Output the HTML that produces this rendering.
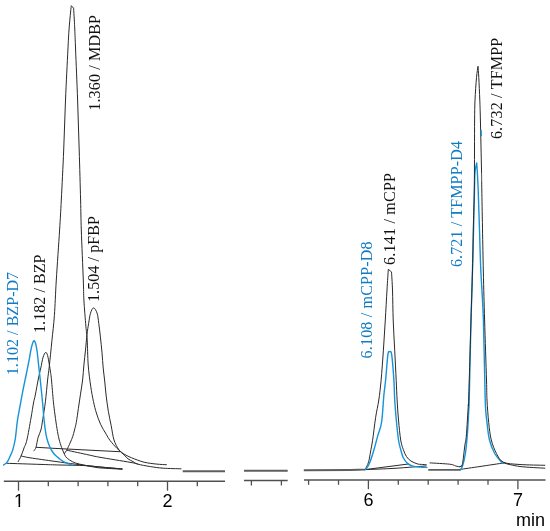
<!DOCTYPE html>
<html><head><meta charset="utf-8"><title>Chromatogram</title>
<style>html,body{margin:0;padding:0;background:#fff;}svg{display:block;}</style></head>
<body>
<svg width="550" height="531" viewBox="0 0 550 531">
<rect width="550" height="531" fill="#fff"/>
<line x1="3.8" y1="481.3" x2="225" y2="481.3" stroke="#505050" stroke-width="1.5"/>
<line x1="18.5" y1="481.3" x2="18.5" y2="490.7" stroke="#505050" stroke-width="1.3"/>
<line x1="48.3" y1="481.3" x2="48.3" y2="486.2" stroke="#505050" stroke-width="1.3"/>
<line x1="78.1" y1="481.3" x2="78.1" y2="486.2" stroke="#505050" stroke-width="1.3"/>
<line x1="107.9" y1="481.3" x2="107.9" y2="486.2" stroke="#505050" stroke-width="1.3"/>
<line x1="137.7" y1="481.3" x2="137.7" y2="486.2" stroke="#505050" stroke-width="1.3"/>
<line x1="167.5" y1="481.3" x2="167.5" y2="490.7" stroke="#505050" stroke-width="1.3"/>
<line x1="197.3" y1="481.3" x2="197.3" y2="486.2" stroke="#505050" stroke-width="1.3"/>
<line x1="244" y1="480.6" x2="287.7" y2="480.6" stroke="#505050" stroke-width="1.5"/>
<line x1="251.4" y1="480.6" x2="251.4" y2="485.5" stroke="#505050" stroke-width="1.3"/>
<line x1="281.4" y1="480.6" x2="281.4" y2="485.5" stroke="#505050" stroke-width="1.3"/>
<line x1="304" y1="480.0" x2="545.5" y2="480.0" stroke="#505050" stroke-width="1.5"/>
<line x1="308.6" y1="480.0" x2="308.6" y2="484.8" stroke="#505050" stroke-width="1.3"/>
<line x1="338.5" y1="480.0" x2="338.5" y2="484.8" stroke="#505050" stroke-width="1.3"/>
<line x1="368.4" y1="480.0" x2="368.4" y2="489.2" stroke="#505050" stroke-width="1.3"/>
<line x1="398.3" y1="480.0" x2="398.3" y2="484.8" stroke="#505050" stroke-width="1.3"/>
<line x1="428.2" y1="480.0" x2="428.2" y2="484.8" stroke="#505050" stroke-width="1.3"/>
<line x1="458.1" y1="480.0" x2="458.1" y2="484.8" stroke="#505050" stroke-width="1.3"/>
<line x1="488.0" y1="480.0" x2="488.0" y2="484.8" stroke="#505050" stroke-width="1.3"/>
<line x1="517.9" y1="480.0" x2="517.9" y2="489.2" stroke="#505050" stroke-width="1.3"/>
<path d="M6.90,463.30 C12.42,463.48 31.15,464.12 40.00,464.40 C48.85,464.68 52.50,464.80 60.00,465.00 C67.50,465.20 78.33,465.27 85.00,465.60 C91.67,465.93 93.83,466.45 100.00,467.00 C106.17,467.55 118.33,468.58 122.00,468.90" fill="none" stroke="#2a2a2a" stroke-width="1.0" stroke-linejoin="round" stroke-linecap="round"/>
<path d="M21.10,456.00 C22.58,456.30 24.35,456.90 30.00,457.80 C35.65,458.70 47.42,460.33 55.00,461.40 C62.58,462.47 68.83,463.35 75.50,464.20 C82.17,465.05 87.25,465.70 95.00,466.50 C102.75,467.30 117.50,468.58 122.00,469.00" fill="none" stroke="#2a2a2a" stroke-width="1.0" stroke-linejoin="round" stroke-linecap="round"/>
<path d="M36.40,447.30 L55.00,448.40 L90.00,450.20 L120.00,451.70" fill="none" stroke="#2a2a2a" stroke-width="1.0" stroke-linejoin="round" stroke-linecap="round"/>
<path d="M67.30,450.30 C70.92,451.08 83.55,453.83 89.00,455.00 C94.45,456.17 93.17,456.08 100.00,457.30 C106.83,458.52 123.72,461.18 130.00,462.30 C136.28,463.42 136.42,463.72 137.70,464.00" fill="none" stroke="#2a2a2a" stroke-width="1.0" stroke-linejoin="round" stroke-linecap="round"/>
<path d="M18.20,461.50 C18.68,460.58 20.13,458.25 21.10,456.00 C22.07,453.75 23.03,450.67 24.00,448.00 C24.97,445.33 25.73,445.00 26.90,440.00 C28.07,435.00 29.90,424.17 31.00,418.00 C32.10,411.83 32.78,406.83 33.50,403.00 C34.22,399.17 34.47,399.17 35.30,395.00 C36.13,390.83 37.58,382.50 38.50,378.00 C39.42,373.50 40.05,371.42 40.80,368.00 C41.55,364.58 42.20,360.10 43.00,357.50 C43.80,354.90 44.83,352.73 45.60,352.40 C46.37,352.07 46.98,353.47 47.60,355.50 C48.22,357.53 48.82,361.85 49.30,364.60 C49.78,367.35 50.13,369.43 50.50,372.00 C50.87,374.57 51.02,375.03 51.50,380.00 C51.98,384.97 52.82,395.97 53.40,401.80 C53.98,407.63 54.40,410.52 55.00,415.00 C55.60,419.48 56.33,424.70 57.00,428.70 C57.67,432.70 58.23,435.87 59.00,439.00 C59.77,442.13 60.85,445.33 61.60,447.50 C62.35,449.67 62.83,450.50 63.50,452.00 C64.17,453.50 64.57,455.15 65.60,456.50 C66.63,457.85 68.05,459.02 69.70,460.10 C71.35,461.18 73.18,462.18 75.50,463.00 C77.82,463.82 80.88,464.38 83.60,465.00 C86.32,465.62 89.07,466.22 91.80,466.70 C94.53,467.18 94.97,467.48 100.00,467.90 C105.03,468.32 118.33,468.98 122.00,469.20" fill="none" stroke="#2a2a2a" stroke-width="1.0" stroke-linejoin="round" stroke-linecap="round"/>
<path d="M33.90,450.80 C34.25,450.20 35.30,449.43 36.00,447.20 C36.70,444.97 37.28,440.27 38.10,437.40 C38.92,434.53 40.13,432.95 40.90,430.00 C41.67,427.05 41.95,424.40 42.70,419.70 C43.45,415.00 44.58,408.42 45.40,401.80 C46.22,395.18 46.95,385.92 47.60,380.00 C48.25,374.08 48.58,372.83 49.30,366.30 C50.02,359.77 51.05,349.28 51.90,340.80 C52.75,332.32 53.67,325.53 54.40,315.40 C55.13,305.27 55.43,294.23 56.30,280.00 C57.17,265.77 58.77,243.33 59.60,230.00 C60.43,216.67 60.62,213.33 61.30,200.00 C61.98,186.67 63.00,166.67 63.70,150.00 C64.40,133.33 64.80,116.67 65.50,100.00 C66.20,83.33 67.32,61.67 67.90,50.00 C68.48,38.33 68.55,36.33 69.00,30.00 C69.45,23.67 70.22,16.05 70.60,12.00 C70.98,7.95 71.18,6.75 71.30,5.70 C71.68,6.12 73.22,7.78 73.60,8.20 C73.72,10.17 74.10,16.37 74.30,20.00 C74.50,23.63 74.58,25.00 74.80,30.00 C75.02,35.00 75.13,38.33 75.60,50.00 C76.07,61.67 77.00,83.33 77.60,100.00 C78.20,116.67 78.70,133.33 79.20,150.00 C79.70,166.67 80.25,186.67 80.60,200.00 C80.95,213.33 80.85,216.67 81.30,230.00 C81.75,243.33 82.87,268.33 83.30,280.00 C83.73,291.67 83.47,292.27 83.90,300.00 C84.33,307.73 85.35,319.80 85.90,326.40 C86.45,333.00 86.82,333.17 87.20,339.60 C87.58,346.03 87.62,357.23 88.20,365.00 C88.78,372.77 89.82,380.08 90.70,386.20 C91.58,392.32 92.55,397.23 93.50,401.70 C94.45,406.17 95.22,409.23 96.40,413.00 C97.58,416.77 98.97,420.77 100.60,424.30 C102.23,427.83 104.62,431.50 106.20,434.20 C107.78,436.90 108.30,438.13 110.10,440.50 C111.90,442.87 114.82,446.23 117.00,448.40 C119.18,450.57 120.80,451.95 123.20,453.50 C125.60,455.05 127.92,456.25 131.40,457.70 C134.88,459.15 139.87,461.13 144.10,462.20 C148.33,463.27 153.08,463.68 156.80,464.10 C160.52,464.52 164.80,464.60 166.40,464.70" fill="none" stroke="#2a2a2a" stroke-width="1.0" stroke-linejoin="round" stroke-linecap="round"/>
<path d="M64.40,453.60 C64.75,453.08 65.82,451.68 66.50,450.50 C67.18,449.32 67.83,447.92 68.50,446.50 C69.17,445.08 69.80,443.65 70.50,442.00 C71.20,440.35 72.03,438.60 72.70,436.60 C73.37,434.60 73.90,432.37 74.50,430.00 C75.10,427.63 75.65,426.02 76.30,422.40 C76.95,418.78 77.70,413.02 78.40,408.30 C79.10,403.58 79.80,398.82 80.50,394.10 C81.20,389.38 82.03,384.85 82.60,380.00 C83.17,375.15 83.42,369.98 83.90,365.00 C84.38,360.02 84.98,355.22 85.50,350.10 C86.02,344.98 86.48,338.70 87.00,334.30 C87.52,329.90 88.02,327.22 88.60,323.70 C89.18,320.18 89.67,315.83 90.50,313.20 C91.33,310.57 92.50,307.90 93.60,307.90 C94.70,307.90 96.23,310.57 97.10,313.20 C97.97,315.83 98.25,319.75 98.80,323.70 C99.35,327.65 99.87,332.05 100.40,336.90 C100.93,341.75 101.53,347.62 102.00,352.80 C102.47,357.98 102.73,363.13 103.20,368.00 C103.67,372.87 104.30,377.32 104.80,382.00 C105.30,386.68 105.60,391.17 106.20,396.10 C106.80,401.03 107.57,406.67 108.40,411.60 C109.23,416.53 110.27,420.97 111.20,425.70 C112.13,430.43 112.73,436.02 114.00,440.00 C115.27,443.98 117.08,447.08 118.80,449.60 C120.52,452.12 122.77,453.57 124.30,455.10 C125.83,456.63 126.55,457.72 128.00,458.80 C129.45,459.88 131.38,460.72 133.00,461.60 C134.62,462.48 134.78,463.27 137.70,464.10 C140.62,464.93 146.25,465.92 150.50,466.60 C154.75,467.28 158.12,467.83 163.20,468.20 C168.28,468.57 178.03,468.70 181.00,468.80" fill="none" stroke="#2a2a2a" stroke-width="1.0" stroke-linejoin="round" stroke-linecap="round"/>
<path d="M3.60,465.10 C4.22,464.55 6.20,463.32 7.30,461.80 C8.40,460.28 9.35,457.82 10.20,456.00 C11.05,454.18 11.58,453.57 12.40,450.90 C13.22,448.23 14.25,445.12 15.10,440.00 C15.95,434.88 16.65,426.02 17.50,420.20 C18.35,414.38 19.28,410.12 20.20,405.10 C21.12,400.08 22.02,395.12 23.00,390.10 C23.98,385.08 25.08,380.02 26.10,375.00 C27.12,369.98 28.25,364.42 29.10,360.00 C29.95,355.58 30.45,351.67 31.20,348.50 C31.95,345.33 32.87,341.83 33.60,341.00 C34.33,340.17 35.00,341.67 35.60,343.50 C36.20,345.33 36.77,349.03 37.20,352.00 C37.63,354.97 37.82,357.80 38.20,361.30 C38.58,364.80 39.07,369.05 39.50,373.00 C39.93,376.95 40.25,379.67 40.80,385.00 C41.35,390.33 42.33,400.00 42.80,405.00 C43.27,410.00 43.18,410.83 43.60,415.00 C44.02,419.17 44.73,426.00 45.30,430.00 C45.87,434.00 46.28,436.27 47.00,439.00 C47.72,441.73 48.77,444.40 49.60,446.40 C50.43,448.40 51.08,449.55 52.00,451.00 C52.92,452.45 53.92,453.85 55.10,455.10 C56.28,456.35 57.75,457.45 59.10,458.50 C60.45,459.55 61.83,460.58 63.20,461.40 C64.57,462.22 65.80,462.77 67.30,463.40 C68.80,464.03 71.38,464.90 72.20,465.20" fill="none" stroke="#1593d8" stroke-width="1.4" stroke-linejoin="round" stroke-linecap="round"/>
<path d="M182.70,471.30 L225.00,471.30" fill="none" stroke="#5e5e5e" stroke-width="1.9" stroke-linejoin="round" stroke-linecap="butt"/>
<path d="M244.00,470.80 L287.70,470.80" fill="none" stroke="#5e5e5e" stroke-width="1.9" stroke-linejoin="round" stroke-linecap="butt"/>
<path d="M303.80,470.20 L350.00,470.00 L358.50,469.80 L363.00,469.60 L365.10,469.60" fill="none" stroke="#5e5e5e" stroke-width="1.9" stroke-linejoin="round" stroke-linecap="butt"/>
<path d="M365.10,469.60 L408.40,464.00" fill="none" stroke="#2a2a2a" stroke-width="1.0" stroke-linejoin="round" stroke-linecap="round"/>
<path d="M365.10,469.60 C370.08,469.38 384.82,468.92 395.00,468.30 C405.18,467.68 421.00,466.30 426.20,465.90" fill="none" stroke="#2a2a2a" stroke-width="1.0" stroke-linejoin="round" stroke-linecap="round"/>
<path d="M365.10,469.30 C365.33,468.92 365.88,468.35 366.50,467.00 C367.12,465.65 368.13,463.70 368.80,461.20 C369.47,458.70 369.87,455.50 370.50,452.00 C371.13,448.50 371.75,445.93 372.60,440.20 C373.45,434.47 374.57,424.30 375.60,417.60 C376.63,410.90 377.88,406.22 378.80,400.00 C379.72,393.78 380.33,388.60 381.10,380.30 C381.87,372.00 382.70,360.25 383.40,350.20 C384.10,340.15 384.70,330.03 385.30,320.00 C385.90,309.97 386.50,298.45 387.00,290.00 C387.50,281.55 388.08,272.75 388.30,269.30 C388.83,269.73 390.97,271.47 391.50,271.90 C391.67,274.92 392.22,281.98 392.50,290.00 C392.78,298.02 392.83,309.97 393.20,320.00 C393.57,330.03 394.20,340.15 394.70,350.20 C395.20,360.25 395.80,372.00 396.20,380.30 C396.60,388.60 396.72,393.38 397.10,400.00 C397.48,406.62 397.90,413.33 398.50,420.00 C399.10,426.67 399.90,435.08 400.70,440.00 C401.50,444.92 402.33,446.73 403.30,449.50 C404.27,452.27 405.23,454.68 406.50,456.60 C407.77,458.52 409.10,459.78 410.90,461.00 C412.70,462.22 415.53,463.33 417.30,463.90 C419.07,464.47 420.02,464.28 421.50,464.40 C422.98,464.52 425.42,464.57 426.20,464.60" fill="none" stroke="#2a2a2a" stroke-width="1.0" stroke-linejoin="round" stroke-linecap="round"/>
<path d="M365.10,469.60 C365.50,469.17 366.63,468.40 367.50,467.00 C368.37,465.60 369.20,464.17 370.30,461.20 C371.40,458.23 372.85,453.47 374.10,449.20 C375.35,444.93 376.55,440.12 377.80,435.60 C379.05,431.08 380.58,428.87 381.60,422.10 C382.62,415.33 383.23,401.97 383.90,395.00 C384.57,388.03 384.93,387.02 385.60,380.30 C386.27,373.58 387.22,359.47 387.90,354.70 C388.58,349.93 389.07,351.70 389.70,351.70 C390.33,351.70 391.00,349.93 391.70,354.70 C392.40,359.47 393.40,372.75 393.90,380.30 C394.40,387.85 394.30,393.38 394.70,400.00 C395.10,406.62 395.67,413.33 396.30,420.00 C396.93,426.67 397.77,435.08 398.50,440.00 C399.23,444.92 399.90,446.53 400.70,449.50 C401.50,452.47 402.13,455.45 403.30,457.80 C404.47,460.15 406.12,462.22 407.70,463.60 C409.28,464.98 410.75,465.52 412.80,466.10 C414.85,466.68 417.67,466.88 420.00,467.10 C422.33,467.32 425.67,467.35 426.80,467.40" fill="none" stroke="#1593d8" stroke-width="1.4" stroke-linejoin="round" stroke-linecap="round"/>
<path d="M428.30,469.90 L460.50,469.90" fill="none" stroke="#5e5e5e" stroke-width="1.9" stroke-linejoin="round" stroke-linecap="butt"/>
<path d="M430.00,462.90 C433.28,463.12 445.35,463.67 449.70,464.20 C454.05,464.73 454.40,465.68 456.10,466.10 C457.80,466.52 458.93,466.78 459.90,466.70 C460.87,466.62 461.57,465.78 461.90,465.60" fill="none" stroke="#2a2a2a" stroke-width="1.0" stroke-linejoin="round" stroke-linecap="round"/>
<path d="M460.20,469.40 C463.50,468.92 472.80,467.57 480.00,466.50 C487.20,465.43 499.50,463.58 503.40,463.00" fill="none" stroke="#2a2a2a" stroke-width="1.0" stroke-linejoin="round" stroke-linecap="round"/>
<path d="M503.40,463.00 C506.17,463.58 513.10,465.63 520.00,466.50 C526.90,467.37 540.67,467.92 544.80,468.20" fill="none" stroke="#2a2a2a" stroke-width="1.0" stroke-linejoin="round" stroke-linecap="round"/>
<path d="M460.50,469.90 C460.58,469.77 460.70,469.67 461.00,469.10 C461.30,468.53 461.83,467.78 462.30,466.50 C462.77,465.22 463.25,463.82 463.80,461.40 C464.35,458.98 465.05,456.00 465.60,452.00 C466.15,448.00 466.70,441.90 467.10,437.40 C467.50,432.90 467.72,429.73 468.00,425.00 C468.28,420.27 468.60,413.17 468.80,409.00 C469.00,404.83 468.83,414.83 469.20,400.00 C469.57,385.17 470.45,341.67 471.00,320.00 C471.55,298.33 472.02,287.50 472.50,270.00 C472.98,252.50 473.57,228.50 473.90,215.00 C474.23,201.50 474.32,196.17 474.50,189.00 C474.68,181.83 474.63,176.35 475.00,172.00 C475.37,167.65 476.42,164.42 476.70,162.90 C476.80,164.40 477.05,167.38 477.30,171.90 C477.55,176.42 477.83,180.32 478.20,190.00 C478.57,199.68 479.07,216.67 479.50,230.00 C479.93,243.33 480.15,255.00 480.80,270.00 C481.45,285.00 482.67,298.33 483.40,320.00 C484.13,341.67 484.60,382.92 485.20,400.00 C485.80,417.08 486.28,415.83 487.00,422.50 C487.72,429.17 488.22,434.83 489.50,440.00 C490.78,445.17 492.68,449.80 494.70,453.50 C496.72,457.20 500.15,460.62 501.60,462.20 C503.05,463.78 503.10,462.87 503.40,463.00" fill="none" stroke="#1593d8" stroke-width="1.4" stroke-linejoin="round" stroke-linecap="round"/>
<path d="M459.90,466.70 C460.22,466.55 461.33,466.50 461.80,465.80 C462.27,465.10 462.38,464.30 462.70,462.50 C463.02,460.70 463.33,457.92 463.70,455.00 C464.07,452.08 464.48,447.93 464.90,445.00 C465.32,442.07 465.78,441.57 466.20,437.40 C466.62,433.23 467.05,425.40 467.40,420.00 C467.75,414.60 468.08,408.67 468.30,405.00 C468.52,401.33 468.25,412.17 468.70,398.00 C469.15,383.83 470.37,341.33 471.00,320.00 C471.63,298.67 472.08,286.67 472.50,270.00 C472.92,253.33 473.20,233.33 473.50,220.00 C473.80,206.67 474.13,201.67 474.30,190.00 C474.47,178.33 474.45,161.67 474.50,150.00 C474.55,138.33 474.52,128.32 474.60,120.00 C474.68,111.68 474.68,107.17 475.00,100.10 C475.32,93.03 476.00,83.23 476.50,77.60 C477.00,71.97 477.75,68.18 478.00,66.30 C478.13,68.18 478.50,71.97 478.80,77.60 C479.10,83.23 479.53,93.03 479.80,100.10 C480.07,107.17 480.12,108.35 480.40,120.00 C480.68,131.65 481.27,158.33 481.50,170.00 C481.73,181.67 481.50,173.33 481.80,190.00 C482.10,206.67 482.83,248.33 483.30,270.00 C483.77,291.67 484.07,301.67 484.60,320.00 C485.13,338.33 486.10,366.67 486.50,380.00 C486.90,393.33 486.63,392.92 487.00,400.00 C487.37,407.08 487.98,415.83 488.70,422.50 C489.42,429.17 490.00,434.83 491.30,440.00 C492.60,445.17 494.48,449.80 496.50,453.50 C498.52,457.20 499.48,460.37 503.40,462.20 C507.32,464.03 513.10,463.98 520.00,464.50 C526.90,465.02 540.67,465.17 544.80,465.30" fill="none" stroke="#2a2a2a" stroke-width="1.0" stroke-linejoin="round" stroke-linecap="round"/>
<path d="M481.10,130.50 L481.30,135.50" fill="none" stroke="#1593d8" stroke-width="1.3" stroke-linejoin="round" stroke-linecap="round"/>
<text x="18.9" y="507.2" font-family="Liberation Sans, sans-serif" font-size="18" fill="#000" text-anchor="middle">1</text>
<rect x="14.2" y="504.6" width="4.3" height="2.8" fill="#fff"/><rect x="20.15" y="504.6" width="4.2" height="2.8" fill="#fff"/>
<text x="167.5" y="507.2" font-family="Liberation Sans, sans-serif" font-size="18" fill="#000" text-anchor="middle">2</text>
<text x="368.4" y="505.8" font-family="Liberation Sans, sans-serif" font-size="18" fill="#000" text-anchor="middle">6</text>
<text x="517.9" y="505.7" font-family="Liberation Sans, sans-serif" font-size="18" fill="#000" text-anchor="middle">7</text>
<text x="530.6" y="526" font-family="Liberation Sans, sans-serif" font-size="18" fill="#000" text-anchor="middle">min</text>
<text transform="translate(18.00,375.20) rotate(-90)" font-family="Liberation Serif, serif" font-size="16" letter-spacing="0.05" fill="#0f7cc4">1.102 / BZP-D7</text>
<text transform="translate(44.50,333.00) rotate(-90)" font-family="Liberation Serif, serif" font-size="16" letter-spacing="0.07" fill="#111">1.182 / BZP</text>
<text transform="translate(100.40,110.80) rotate(-90)" font-family="Liberation Serif, serif" font-size="16" letter-spacing="0.18" fill="#111">1.360 / MDBP</text>
<text transform="translate(99.20,302.00) rotate(-90)" font-family="Liberation Serif, serif" font-size="16" letter-spacing="0.1" fill="#111">1.504 / pFBP</text>
<text transform="translate(372.40,358.40) rotate(-90)" font-family="Liberation Serif, serif" font-size="16" letter-spacing="0.19" fill="#0f7cc4">6.108 / mCPP-D8</text>
<text transform="translate(395.40,265.10) rotate(-90)" font-family="Liberation Serif, serif" font-size="16" letter-spacing="0.25" fill="#111">6.141 / mCPP</text>
<text transform="translate(461.90,267.10) rotate(-90)" font-family="Liberation Serif, serif" font-size="16" letter-spacing="0.15" fill="#0f7cc4">6.721 / TFMPP-D4</text>
<text transform="translate(502.40,139.10) rotate(-90)" font-family="Liberation Serif, serif" font-size="16" letter-spacing="0.2" fill="#111">6.732 / TFMPP</text>
</svg>
</body></html>
